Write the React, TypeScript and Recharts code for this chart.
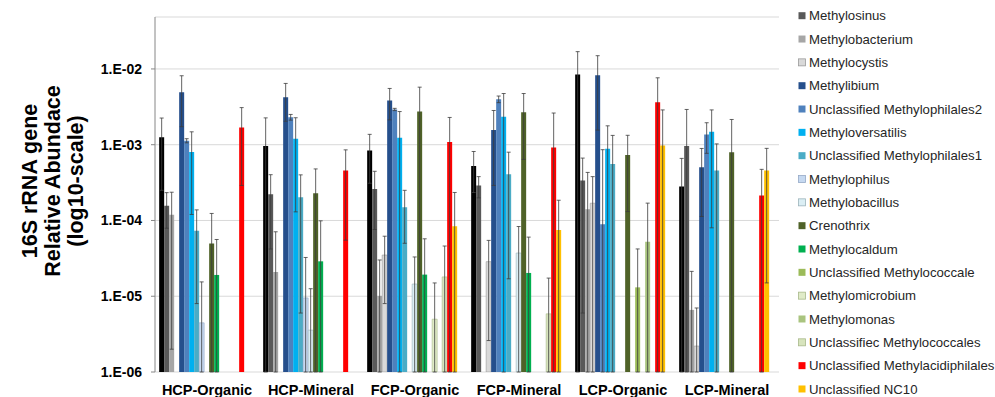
import React from 'react';
import { BarChart, Bar, XAxis, YAxis, CartesianGrid, ErrorBar } from 'recharts';

const categories = ['HCP-Organic', 'HCP-Mineral', 'FCP-Organic', 'FCP-Mineral', 'LCP-Organic', 'LCP-Mineral'];

const yTicks = [1e-6, 1e-5, 1e-4, 1e-3, 1e-2];

// first series: black bars (legend entry cropped off the top of the picture)
const blackSeries = [1.25e-3, 9.6e-4, 8.4e-4, 5.24e-4, 8.42e-3, 2.8e-4];
const blackErr = [1.0e-3, 1.3e-3, 5.3e-4, 2.9e-4, 8.5e-3, 3.8e-4];
const methylosinus = [1.56e-4, 2.22e-4, 2.61e-4, 2.89e-4, 3.36e-4, 9.6e-4];
const methylosinusErr = [7.7e-5, 1.8e-4, 1.85e-4, 9e-5, 3.3e-4, 1.96e-3];
const methylobacterium = [1.19e-4, 2.09e-5, 1.01e-5, null, 1.41e-4, 6.6e-6];
const methylobacteriumErr = [1.17e-4, 5e-5, 2e-5, null, 2.9e-4, 1.47e-5];
const methylocystis = [null, null, 3.5e-5, 2.86e-5, 1.69e-4, 2.2e-6];
const methylocystisErr = [null, null, 2.7e-5, 2.6e-5, 2.1e-4, 4.8e-6];
const methylibium = [4.93e-3, 4.24e-3, 3.83e-3, 1.56e-3, 8.26e-3, 5.03e-4];
const methylibiumErr = [3.2e-3, 2.2e-3, 1.7e-3, 1.27e-3, 6.7e-3, 3.9e-4];
const unclMethylophilales2 = [1.13e-3, 2.31e-3, 2.92e-3, 3.99e-3, 8.95e-5, 1.36e-3];
const unclMethylophilales2Err = [7e-5, 2e-4, 1e-4, 4e-4, 7.7e-4, 5.9e-4];
const methyloversatilis = [8.0e-4, 1.2e-3, 1.24e-3, 2.34e-3, 8.86e-4, 1.48e-3];
const methyloversatilisErr = [6.8e-4, 1.07e-3, 1.5e-3, 2.4e-3, 8.9e-4, 1.4e-3];
const unclMethylophilales1 = [7.3e-5, 2.03e-4, 1.5e-4, 4.07e-4, 5.57e-4, 4.55e-4];
const unclMethylophilales1Err = [6.5e-5, 1.97e-4, 1e-4, 3.9e-4, 7.7e-4, 5.7e-4];
const methylophilus = [4.46e-6, 9.5e-6, null, null, null, null];
const methylophilusErr = [1.1e-5, 2.3e-5, null, null, null, null];
const methylobacillus = [null, 3.57e-6, 1.45e-5, 3.72e-5, null, null];
const methylobacillusErr = [null, 9e-6, 1.85e-5, 4.6e-5, null, null];
const crenothrix = [4.98e-5, 2.29e-4, 2.75e-3, 2.69e-3, 7.31e-4, 7.93e-4];
const crenothrixErr = [7.4e-5, 2.5e-4, 3e-3, 2.05e-3, 6e-4, 1.36e-3];
const methylocaldum = [1.91e-5, 2.89e-5, 1.93e-5, 2.03e-5, null, null];
const methylocaldumErr = [3.7e-5, 7e-5, 3.8e-5, 4e-5, null, null];
const unclMethylococcale = [null, null, null, null, 1.31e-5, null];
const unclMethylococcaleErr = [null, null, null, null, 2.9e-5, null];
const methylomicrobium = [null, null, 4.98e-6, null, null, null];
const methylomicrobiumErr = [null, null, 1e-5, null, null, null];
const methylomonas = [null, null, null, null, 5.24e-5, null];
const methylomonasErr = [null, null, null, null, 1.17e-4, null];
const unclMethylococcales = [null, null, 1.8e-5, 5.86e-6, null, null];
const unclMethylococcalesErr = [null, null, 2.8e-5, 1.15e-5, null, null];
const unclMethylacidiphilales = [1.69e-3, 4.55e-4, 1.09e-3, 9.2e-4, 3.64e-3, 2.13e-4];
const unclMethylacidiphilalesErr = [1.4e-3, 4e-4, 1.2e-3, 1.7e-3, 4e-3, 2.6e-4];
const unclNC10 = [null, null, 8.42e-5, 7.5e-5, 9.8e-4, 4.55e-4];
const unclNC10Err = [null, null, 1.5e-4, 1.1e-4, 1.9e-3, 4.4e-4];

const seriesNames = [
  '',
  'Methylosinus',
  'Methylobacterium',
  'Methylocystis',
  'Methylibium',
  'Unclassified Methylophilales2',
  'Methyloversatilis',
  'Unclassified Methylophilales1',
  'Methylophilus',
  'Methylobacillus',
  'Crenothrix',
  'Methylocaldum',
  'Unclassified Methylococcale',
  'Methylomicrobium',
  'Methylomonas',
  'Unclassifiec Methylococcales',
  'Unclassified Methylacidiphilales',
  'Unclassified NC10',
];

const titleLines = ['16S rRNA gene', 'Relative Abundace', '(log10-scale)'];

const seriesValues = [
  blackSeries, methylosinus, methylobacterium, methylocystis, methylibium, unclMethylophilales2,
  methyloversatilis, unclMethylophilales1, methylophilus, methylobacillus, crenothrix, methylocaldum,
  unclMethylococcale, methylomicrobium, methylomonas, unclMethylococcales, unclMethylacidiphilales, unclNC10,
];
const seriesErrors = [
  blackErr, methylosinusErr, methylobacteriumErr, methylocystisErr, methylibiumErr, unclMethylophilales2Err,
  methyloversatilisErr, unclMethylophilales1Err, methylophilusErr, methylobacillusErr, crenothrixErr, methylocaldumErr,
  unclMethylococcaleErr, methylomicrobiumErr, methylomonasErr, unclMethylococcalesErr, unclMethylacidiphilalesErr, unclNC10Err,
];

const colors = [
  '#000000', '#595959', '#a6a6a6', '#d9d9d9', '#254f8c', '#4f81bd', '#00b0f0', '#4bacc6', '#c6d9f1',
  '#dbeef4', '#4f6228', '#00b050', '#9bbb59', '#e0ebc8', '#a9c47f', '#d7e4bd', '#ff0000', '#ffc000',
];
const strokes = [
  'none', 'none', 'none', '#9a9a9a', 'none', 'none', 'none', 'none', '#95a9c6',
  '#9cb3bb', 'none', 'none', 'none', '#a9b98a', 'none', '#a9b98a', 'none', 'none',
];

const Y_MIN = 1e-6;
const Y_MAX = 0.0485;

const data = categories.map((name, ci) => {
  const row: any = { name };
  seriesValues.forEach((vals, si) => {
    const v = vals[ci];
    const e = seriesErrors[si][ci];
    row['s' + si] = v;
    if (v == null || e == null) {
      row['e' + si] = null;
    } else {
      const low = v - e > Y_MIN ? e : v - Y_MIN;
      row['e' + si] = [low, e];
    }
  });
  return row;
});

const fmtTick = (v: number) => {
  const exp = Math.round(Math.log10(v));
  return `1.E-${String(-exp).padStart(2, '0')}`;
};

const font = "'Liberation Sans', Arial, sans-serif";

export default function App() {
  return (
    <div style={{ position: 'absolute', left: 0, top: 0, width: 995, height: 397, background: '#fff' }}>
      <BarChart
        width={995}
        height={397}
        data={data}
        margin={{ top: 17, right: 216, bottom: 0, left: 95 }}
        barCategoryGap="4%"
        barGap={0}
      >
        <CartesianGrid xAxisId="cat" vertical={false} stroke="#d9d9d9" strokeWidth={1} />
        <XAxis
          xAxisId="grid"
          type="number"
          domain={[0, 6]}
          ticks={[0, 1, 2, 3, 4, 5, 6]}
          allowDataOverflow
          height={0}
          tickSize={5}
          tickFormatter={() => ''}
          axisLine={{ stroke: '#868686' }}
          tickLine={{ stroke: '#868686' }}
        />
        <XAxis
          xAxisId="cat"
          dataKey="name"
          height={25}
          axisLine={false}
          tickLine={false}
          tickSize={0}
          tickMargin={13}
          interval={0}
          tick={{ fontFamily: font, fontWeight: 700, fontSize: 14.5, fill: '#000' }}
        />
        <YAxis
          type="number"
          scale="log"
          domain={[Y_MIN, Y_MAX]}
          allowDataOverflow
          ticks={yTicks}
          tickFormatter={fmtTick}
          width={60}
          tickSize={4}
          tickMargin={9}
          axisLine={{ stroke: '#868686' }}
          tickLine={{ stroke: '#868686' }}
          tick={{ fontFamily: font, fontWeight: 700, fontSize: 14, fill: '#000' }}
        />
        {seriesValues.map((_, si) => (
          <Bar
            key={si}
            xAxisId="cat"
            dataKey={'s' + si}
            name={seriesNames[si]}
            fill={colors[si]}
            stroke={strokes[si]}
            strokeWidth={0.6}
            isAnimationActive={false}
          >
            <ErrorBar dataKey={'e' + si} width={2} stroke="#3c3c3c" strokeWidth={0.8} direction="y" />
          </Bar>
        ))}
      </BarChart>

      <svg width={110} height={397} style={{ position: 'absolute', left: 0, top: 0 }}>
        {titleLines.map((t, i) => {
          const cx = 37 + i * 23;
          const cy = 181;
          return (
            <text
              key={i}
              x={cx}
              y={cy}
              textAnchor="middle"
              transform={`rotate(-90, ${cx}, ${cy})`}
              fontFamily={font}
              fontWeight={700}
              fontSize={21.5}
              fill="#000"
            >
              {t}
            </text>
          );
        })}
      </svg>

      <svg width={205} height={397} style={{ position: 'absolute', left: 790, top: 0 }}>
        {seriesNames.slice(1).map((n, i) => {
          const cy = 15.7 + i * 23.33;
          const si = i + 1;
          return (
            <g key={n}>
              <rect
                x={8.5}
                y={cy - 3.5}
                width={7}
                height={7}
                fill={colors[si]}
                stroke={strokes[si] === 'none' ? 'none' : strokes[si]}
                strokeWidth={0.8}
              />
              <text x={19} y={cy + 4.6} fontFamily={font} fontSize={13.2} fill="#262626">
                {n}
              </text>
            </g>
          );
        })}
      </svg>
    </div>
  );
}
